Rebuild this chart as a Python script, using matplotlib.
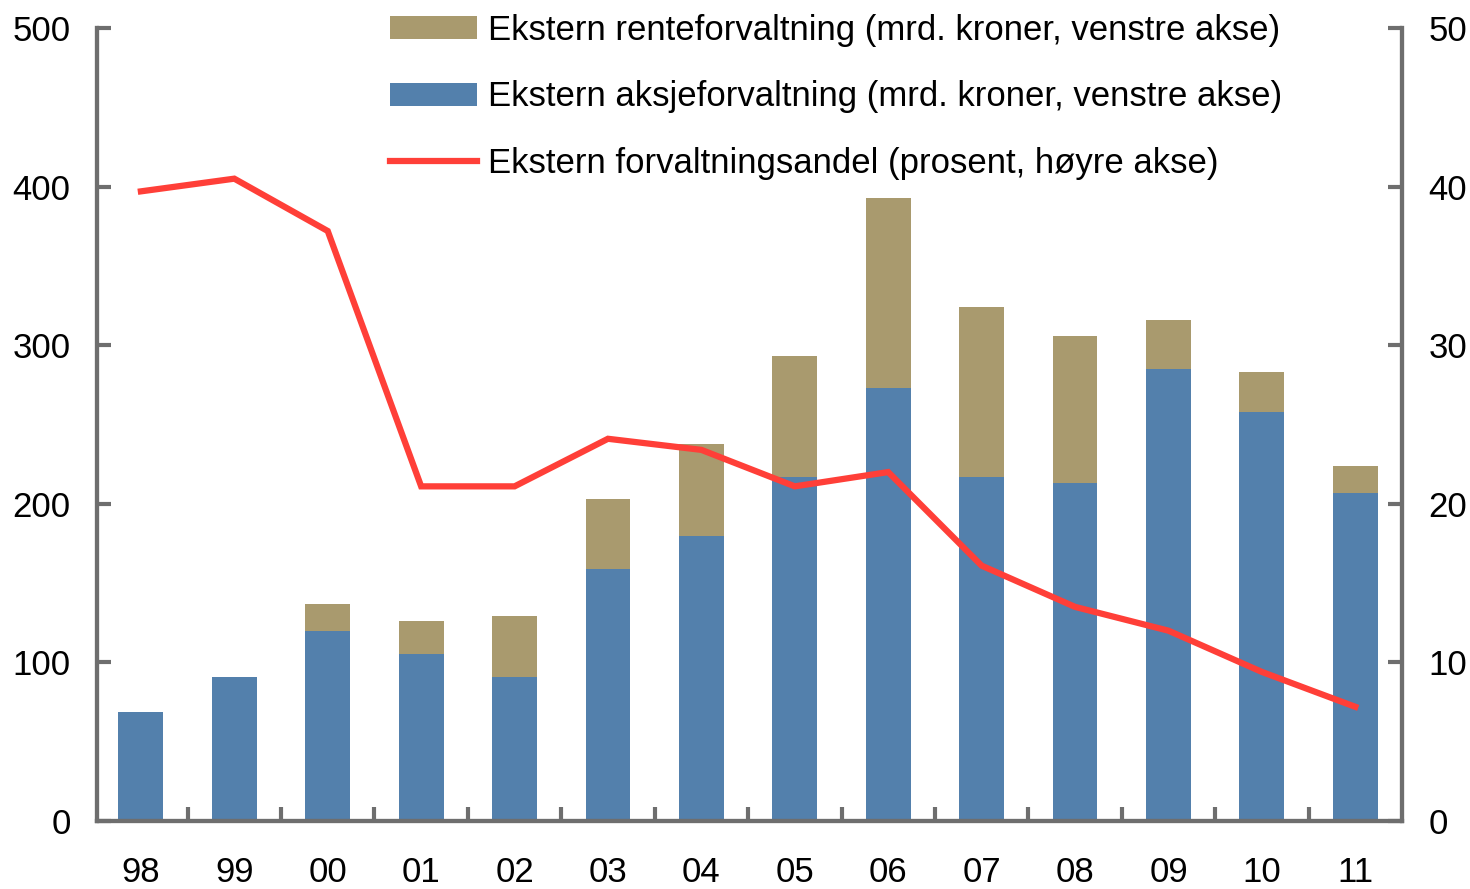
import matplotlib
matplotlib.use("Agg")
import matplotlib.pyplot as plt
import numpy as np

plt.rcParams['font.family'] = ['Liberation Sans', 'DejaVu Sans']

years = ["98", "99", "00", "01", "02", "03", "04", "05", "06", "07", "08", "09", "10", "11"]
aksje = [69, 91, 120, 105, 91, 159, 180, 217, 273, 217, 213, 285, 258, 207]
total = [69, 91, 137, 126, 129, 203, 238, 293, 393, 324, 306, 316, 283, 224]
rente = [t - a for t, a in zip(total, aksje)]
andel = [39.7, 40.5, 37.2, 21.1, 21.1, 24.1, 23.4, 21.1, 22.0, 16.1, 13.5, 12.0, 9.4, 7.2]

blue = "#5380AC"
tan = "#A99A6E"
red = "#FF3F38"
axc = "#6E6E6E"
fs = 25

fig = plt.figure(figsize=(14.7, 8.89), dpi=100)
ax = fig.add_axes([97/1470, 1-821/889, (1402-97)/1470, (821-28)/889])
ax2 = ax.twinx()

x = np.arange(len(years))
b1 = ax.bar(x, aksje, width=0.48, color=blue, label="Ekstern aksjeforvaltning (mrd. kroner, venstre akse)", zorder=2)
b2 = ax.bar(x, rente, width=0.48, bottom=aksje, color=tan, label="Ekstern renteforvaltning (mrd. kroner, venstre akse)", zorder=2)
l1, = ax2.plot(x, andel, color=red, lw=4.5, label="Ekstern forvaltningsandel (prosent, høyre akse)", solid_joinstyle='miter')

ax.set_xlim(-0.47, len(years) - 0.5)
ax.set_ylim(0, 500)
ax2.set_ylim(0, 50)
ax.set_yticks(np.arange(0, 501, 100))
ax2.set_yticks(np.arange(0, 51, 10))

ax.set_xticks(x)
ax.set_xticklabels(years)
ax.set_xticks(np.arange(0.5, len(years) - 1, 1.0), minor=True)
ax.tick_params(axis='x', which='major', length=0, pad=25, labelsize=fs)
ax.tick_params(axis='x', which='minor', direction='in', length=10, width=3, color=axc)
ax.tick_params(axis='y', direction='in', length=10, width=3, color=axc, labelsize=fs, pad=19)
ax2.tick_params(axis='y', direction='in', length=10, width=3, color=axc, labelsize=fs, pad=19)

for a in (ax, ax2):
    a.spines['top'].set_visible(False)
    for s in ('left', 'right', 'bottom'):
        a.spines[s].set_color(axc)
        a.spines[s].set_linewidth(3)

ax.set_zorder(ax2.get_zorder() - 1)
ax.patch.set_visible(False)
ax2.patch.set_visible(False)

fig.legend([b2, b1, l1], [b2.get_label(), b1.get_label(), l1.get_label()],
           loc='upper left', bbox_to_anchor=(390/1470, 1 - 14/889), frameon=False,
           fontsize=fs, handlelength=2.5, handleheight=0.65, handletextpad=0.32,
           labelspacing=0.96, borderpad=0, borderaxespad=0)

fig.savefig("out.png", dpi=100)
